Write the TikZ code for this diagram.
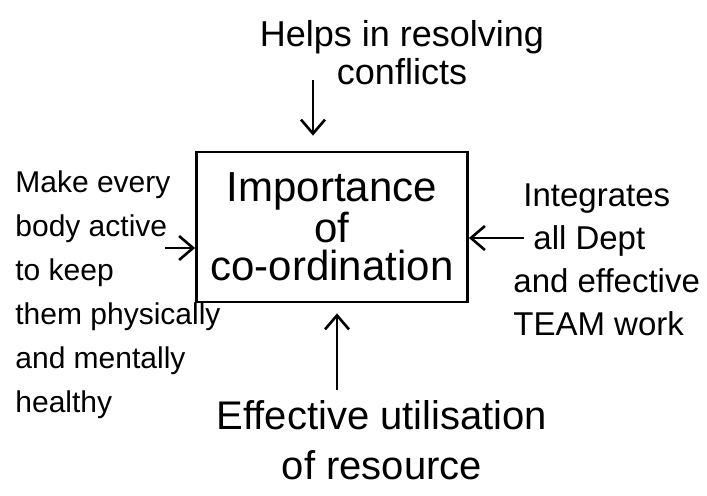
\documentclass[tikz,border=0pt]{standalone}
\usepackage{fontspec}
\setmainfont{Liberation Sans}
\usetikzlibrary{arrows.meta}

\begin{document}
\begin{tikzpicture}[
    x=0.5pt, y=-0.5pt,
    line width=1.4pt,
    mainbox/.style={
        draw,
        align=center,
        minimum width=135.5pt,
        minimum height=75pt,
        inner sep=2pt,
        font=\fontsize{21}{19}\selectfont
    },
    note/.style={
        inner sep=1pt
    },
    link/.style={-{Straight Barb[length=7pt, width=12pt]}, line width=1.3pt}
]
    \useasboundingbox (0,0) rectangle (707,496);

    \node[mainbox] (coord) at (332,227) {Importance\\of\\co-ordination};

    \node[note, align=center, font=\fontsize{18}{19}\selectfont] (helps) at (402,53) {Helps in resolving\\conflicts};
    \node[note, anchor=west, align=left, font=\fontsize{15}{22}\selectfont] (active) at (12,295) {Make every\\body active\\to keep\\them physically\\and mentally\\healthy};
    \node[note, anchor=west, align=left, font=\fontsize{16.5}{21.5}\selectfont] (integ) at (510,260) {\hspace*{5pt}Integrates\\\hspace*{10pt}all Dept\\and effective\\TEAM work};
    \node[note, align=center, font=\fontsize{20}{25}\selectfont] (resource) at (382,440) {Effective utilisation\\of resource};

    % tails of the hand-drawn arrows
    \coordinate (helpsTail) at (313,80);
    \coordinate (activeTail) at (165,248);
    \coordinate (integTail) at (524,238);
    \coordinate (resourceTail) at (337,390);

    \draw[link, shorten >=7.5pt] (helpsTail) -- (helpsTail |- coord.north);
    \draw[link] (activeTail) -- (activeTail -| coord.west);
    \draw[link] (integTail) -- (integTail -| coord.east);
    \draw[link, shorten >=5pt] (resourceTail) -- (resourceTail |- coord.south);
\end{tikzpicture}
\end{document}
